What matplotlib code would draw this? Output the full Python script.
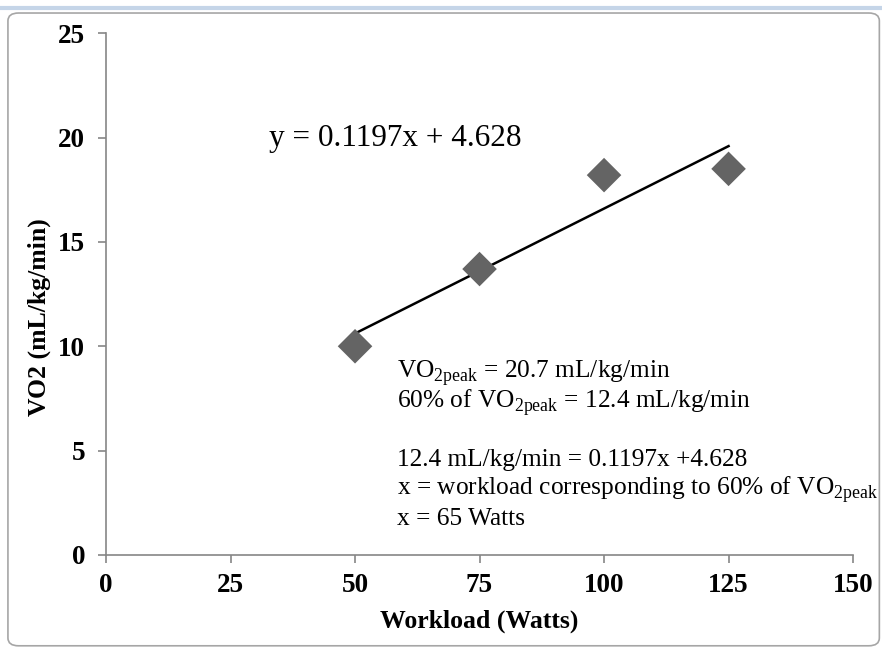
import matplotlib.pyplot as plt
from matplotlib.patches import FancyBboxPatch

# data
workload = [50, 75, 100, 125]
vo2 = [10.0, 13.7, 18.2, 18.5]
slope = 0.1197
intercept = 4.628
x_ticks = [0, 25, 50, 75, 100, 125, 150]
y_ticks = [0, 5, 10, 15, 20, 25]

plt.rcParams['font.family'] = ['Liberation Serif', 'DejaVu Serif']
plt.rcParams['mathtext.fontset'] = 'custom'
plt.rcParams['mathtext.rm'] = 'Liberation Serif'

fig = plt.figure(figsize=(8.82, 6.51), dpi=100)
ax = fig.add_axes([0.1202, 0.1475, 0.847, 0.8015])

# chart frame
frame = FancyBboxPatch((0.009, 0.008), 0.988, 0.972, boxstyle='round,pad=0,rounding_size=0.012',
                       transform=fig.transFigure, facecolor='none', edgecolor='#a6a6a6', lw=1.2)
fig.patches.append(frame)
fig.add_artist(plt.Line2D([0, 1], [0.988, 0.988], transform=fig.transFigure, color='#c5d5e8', lw=3))

ax.scatter(workload, vo2, marker='D', s=310, color='#646464', zorder=3, edgecolors='none')
line_x = [workload[0], workload[-1]]
line_y = [slope * v + intercept for v in line_x]
ax.plot(line_x, line_y, color='black', lw=1.8, zorder=2)

ax.set_xlim(0, 150)
ax.set_ylim(0, 25)
ax.set_xticks(x_ticks)
ax.set_yticks(y_ticks)
for s in ['top', 'right']:
    ax.spines[s].set_visible(False)
for s in ['left', 'bottom']:
    ax.spines[s].set_color('#868686')
    ax.spines[s].set_linewidth(1.2)
ax.tick_params(axis='both', direction='out', length=6, color='#868686', width=1.2,
               labelsize=19.5)
ax.tick_params(axis='y', pad=9)
ax.tick_params(axis='x', pad=7)
for lab in ax.get_xticklabels() + ax.get_yticklabels():
    lab.set_fontweight('bold')

ax.set_xlabel('Workload (Watts)', fontsize=18.5, fontweight='bold', labelpad=8)
ax.set_ylabel('VO2 (mL/kg/min)', fontsize=18.5, fontweight='bold')
ax.yaxis.set_label_coords(-0.073, 0.456)

ax.text(0.218, 0.7835, 'y = 0.1197x + 4.628', transform=ax.transAxes, fontsize=22.5)

lines = [
    (0.339, r'VO$_{\mathrm{2peak}}$ = 20.7 mL/kg/min'),
    (0.2816, r'60% of VO$_{\mathrm{2peak}}$ = 12.4 mL/kg/min'),
    (0.1705, '12.4 mL/kg/min = 0.1197x +4.628'),
    (0.1149, r'x = workload corresponding to 60% of VO$_{\mathrm{2peak}}$'),
    (0.0575, 'x = 65 Watts'),
]
for yy, t in lines:
    ax.text(0.389, yy, t, transform=ax.transAxes, fontsize=18.3)

fig.savefig('out.png', dpi=100)
